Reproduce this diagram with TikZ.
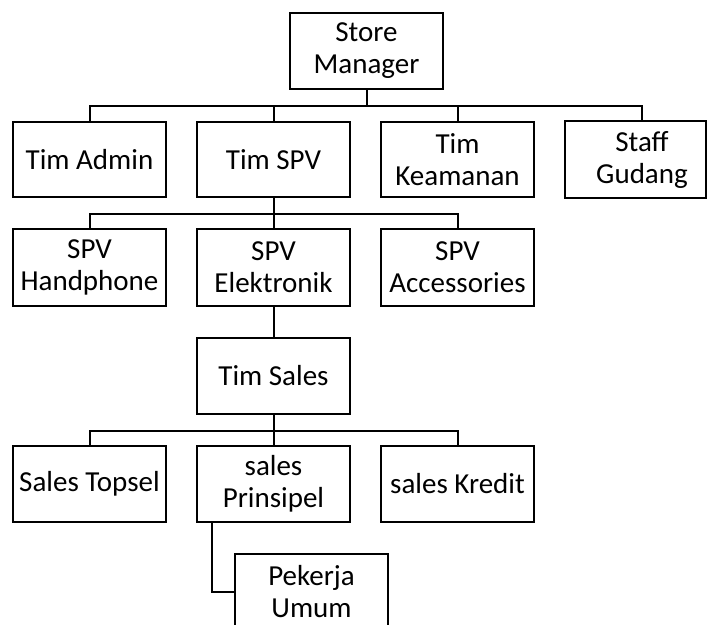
\documentclass[tikz,border=0pt]{standalone}
\usepackage{fontspec}
\setmainfont{Carlito}
\begin{document}
\begin{tikzpicture}[x=1pt,y=-1pt,
  box/.style={draw, line width=2pt, minimum width=153pt, minimum height=76pt,
    align=center, inner sep=0pt, font=\fontsize{29}{32}\selectfont},
  conn/.style={line width=2pt}]
\clip (0,0) rectangle (708,624);
\fill[white] (0,0) rectangle (708,624);
% level 0
\node[box] (sm) at (366.5,51) {Store\\Manager};
% level 1
\node[box, minimum height=75pt] (admin) at (89.5,159.5) {Tim Admin};
\node[box, minimum height=75pt] (spv) at (273.5,159.5) {Tim SPV};
\node[box, minimum height=75pt] (keam) at (457.5,159.5) {Tim\\Keamanan};
\node[box, draw=none, minimum height=75pt] (staff) at (642,159.5) {Staff\\Gudang};
\draw[line width=2pt] (staff.south west) rectangle ([xshift=-14pt]staff.north east);
% level 2
\node[box, minimum height=77pt] (hp) at (89.5,267.5) {SPV\\Handphone};
\node[box, minimum height=77pt] (el) at (273.5,267.5) {SPV\\Elektronik};
\node[box, minimum height=77pt] (acc) at (457.5,267.5) {SPV\\Accessories};
% level 3
\node[box] (sales) at (273.5,376) {Tim Sales};
% level 4
\node[box] (top) at (89.5,484) {Sales Topsel};
\node[box] (pri) at (273.5,484) {sales\\Prinsipel};
\node[box] (kre) at (457.5,484) {sales Kredit};
% level 5
\node[box] (pek) at (311.5,592) {Pekerja\\Umum};
% connectors
\coordinate (hb1) at (366.5,106);
\coordinate (hb2) at (273.5,214);
\coordinate (hb3) at (273.5,431);
\draw[conn] (sm.south) -- (hb1);
\draw[conn] (admin.north) -- (admin.north |- hb1) -- (staff.north |- hb1) -- (staff.north);
\draw[conn] (spv.north) -- (spv.north |- hb1);
\draw[conn] (keam.north) -- (keam.north |- hb1);
\draw[conn] (spv.south) -- (el.north);
\draw[conn] (hp.north) -- (hp.north |- hb2) -- (acc.north |- hb2) -- (acc.north);
\draw[conn] (el.south) -- (sales.north);
\draw[conn] (sales.south) -- (pri.north);
\draw[conn] (top.north) -- (top.north |- hb3) -- (kre.north |- hb3) -- (kre.north);
\draw[conn] ([xshift=16pt]pri.south west) |- (pek.west);
\end{tikzpicture}
\end{document}
